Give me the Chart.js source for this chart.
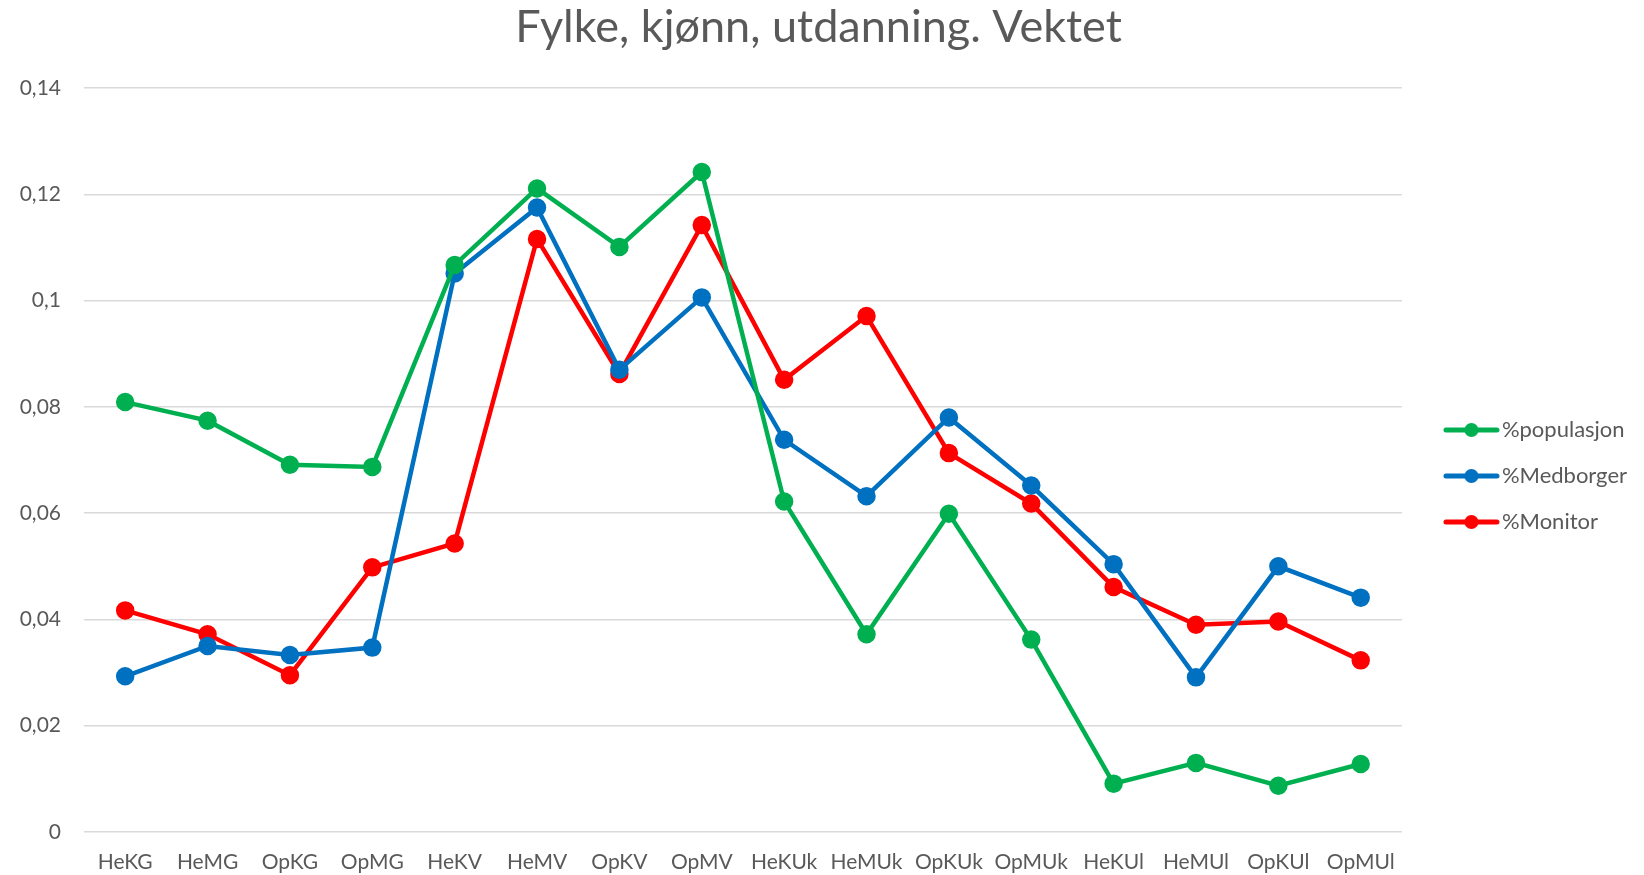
<!DOCTYPE html>
<html>
<head>
<meta charset="utf-8">
<script src="https://cdn.jsdelivr.net/npm/chart.js@4"></script>
<style>
  html, body { margin: 0; padding: 0; background: #fff; }
  #wrap { width: 1644px; height: 875px; }
</style>
</head>
<body>
<div id="wrap"><canvas id="myChart" width="1644" height="875"></canvas></div>
<script>
// categories on the x axis
const categories = ["HeKG", "HeMG", "OpKG", "OpMG", "HeKV", "HeMV", "OpKV", "OpMV",
  "HeKUk", "HeMUk", "OpKUk", "OpMUk", "HeKUl", "HeMUl", "OpKUl", "OpMUl"];

// series values
const populasjon = [0.0809, 0.0774, 0.0691, 0.0687, 0.1067, 0.1211, 0.1101, 0.1242,
  0.0622, 0.0372, 0.0599, 0.0362, 0.0091, 0.0130, 0.0087, 0.0128];
const medborger = [0.0293, 0.0350, 0.0333, 0.0347, 0.1051, 0.1175, 0.0870, 0.1006,
  0.0738, 0.0632, 0.0780, 0.0652, 0.0504, 0.0291, 0.0500, 0.0441];
const monitor = [0.0417, 0.0372, 0.0295, 0.0498, 0.0543, 0.1116, 0.0862, 0.1142,
  0.0851, 0.0971, 0.0713, 0.0618, 0.0461, 0.0390, 0.0396, 0.0323];

const seriesNames = ["%populasjon", "%Medborger", "%Monitor"];
const seriesColors = ["#00b050", "#0070c0", "#ff0000"];

// y axis
const yMax = 0.14;
const yStep = 0.02;

const textColor = "#595959";
const gridColor = "#d9d9d9";
const fontFamily = "Lato, 'Open Sans', sans-serif";

// legend marker: short line with a dot in the middle, like the spreadsheet legend
// (drawn off-centre so the line sits close to the label text)
function legendIcon(color) {
  const c = document.createElement("canvas");
  c.width = 80;
  c.height = 16;
  const g = c.getContext("2d");
  g.strokeStyle = color;
  g.lineWidth = 5;
  g.lineCap = "round";
  g.beginPath();
  g.moveTo(23, 8);
  g.lineTo(74, 8);
  g.stroke();
  g.fillStyle = color;
  g.beginPath();
  g.arc(48.5, 8, 7, 0, Math.PI * 2);
  g.fill();
  return c;
}

const ctx = document.getElementById("myChart").getContext("2d");

const datasets = [populasjon, medborger, monitor].map(function(values, i) {
  return {
    label: seriesNames[i],
    data: values,
    yAxisID: "y",
    borderColor: seriesColors[i],
    backgroundColor: seriesColors[i],
    pointBackgroundColor: seriesColors[i],
    pointBorderColor: seriesColors[i],
    borderWidth: 4.5,
    pointRadius: 7,
    pointHoverRadius: 7,
    tension: 0,
  };
});

const myChart = new Chart(ctx, {
  type: "line",
  data: {
    labels: categories,
    datasets: datasets,
  },
  options: {
    responsive: false,
    animation: false,
    devicePixelRatio: 1,
    layout: {
      padding: { left: 0, right: 7, top: 0, bottom: 0 },
    },
    plugins: {
      tooltip: { enabled: false },
      title: {
        display: true,
        text: "Fylke, kjønn, utdanning. Vektet",
        color: textColor,
        font: { family: fontFamily, size: 45, weight: "normal" },
        padding: { top: 0, bottom: 34 },
      },
      legend: {
        position: "right",
        fullSize: false,
        title: {
          display: true,
          text: " ",
          font: { size: 10 },
          padding: { top: 0, bottom: 20 },
        },
        labels: {
          color: textColor,
          font: { family: fontFamily, size: 22 },
          usePointStyle: true,
          pointStyleWidth: 56,
          padding: 24,
          generateLabels: function(chart) {
            const items = Chart.defaults.plugins.legend.labels.generateLabels(chart);
            items.forEach(function(item) {
              item.pointStyle = legendIcon(seriesColors[item.datasetIndex]);
            });
            return items;
          },
        },
      },
    },
    scales: {
      x: {
        offset: true,
        grid: { display: false, drawTicks: false },
        border: { display: false },
        afterFit: function(scale) { scale.height = 43; },
        ticks: {
          color: textColor,
          font: { family: fontFamily, size: 21 },
          padding: 18,
          maxRotation: 0,
          autoSkip: false,
        },
      },
      y: {
        min: 0,
        max: yMax,
        grid: { color: gridColor, lineWidth: 1.5, drawTicks: false },
        border: { display: false },
        afterFit: function(scale) { scale.width = 84; },
        ticks: {
          stepSize: yStep,
          color: textColor,
          font: { family: fontFamily, size: 21 },
          padding: 23,
          callback: function(v) {
            return String(Number(v.toFixed(2))).replace(".", ",");
          },
        },
      },
      // empty spacer on the right, only to leave a gap before the legend
      gap: {
        position: "right",
        min: 0,
        max: yMax,
        grid: { display: false, drawTicks: false },
        border: { display: false },
        ticks: { display: false },
        afterFit: function(scale) { scale.width = 9; },
      },
    },
  },
});
</script>
</body>
</html>
